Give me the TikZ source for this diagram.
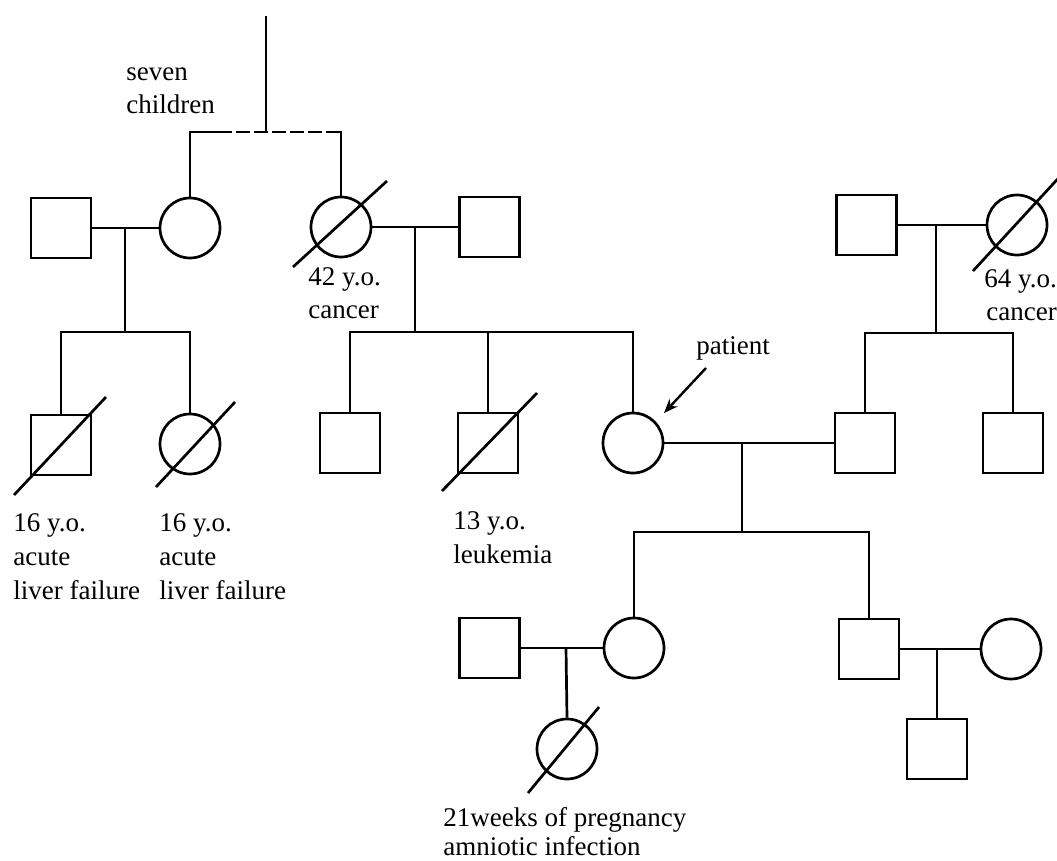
\documentclass[tikz,border=0pt]{standalone}
\usepackage{fontspec}
\setmainfont{Liberation Serif}
\usetikzlibrary{arrows.meta}
\begin{document}
\begin{tikzpicture}[x=1pt,y=-1pt,line width=2.7pt,
  male/.style={draw,rectangle,minimum size=60pt,inner sep=0pt},
  female/.style={draw,circle,minimum size=60pt,inner sep=0pt},
  lbl/.style={anchor=base west,inner sep=0pt,font=\fontsize{27}{33}\selectfont},
  slash/.style={line width=2.7pt},
  sibdash/.style={dash pattern=on 14pt off 4pt}]
\useasboundingbox (0,0) rectangle (1057,861);

% generation II
\node[male]   (sqA)  at (61,228)  {};
\node[female] (cirA) at (190,228) {};
\node[female] (cirB) at (341,227) {};
\node[male]   (sqC)  at (489.5,227) {};
\node[male]   (sqI)  at (866.5,225) {};
\node[female] (cirJ) at (1017,225) {};

% generation III
\node[male]   (sqD)  at (61,445)  {};
\node[female] (cirE) at (190,444) {};
\node[male]   (sqF)  at (350,443) {};
\node[male]   (sqG)  at (488,443) {};
\node[female] (cirP) at (633,443) {};
\node[male]   (sqH)  at (865,443) {};
\node[male]   (sqK)  at (1013,443) {};

% generation IV
\node[male]   (sqM)  at (489.5,648) {};
\node[female] (cirN) at (634,648) {};
\node[male]   (sqP)  at (869,649) {};
\node[female] (cirQ) at (1011,649) {};

% generation V
\node[female] (cirO) at (567,749) {};
\node[male]   (sqR)  at (937,749) {};

% top sibship
\coordinate (top) at (266,16);
\coordinate (sib) at (266,132);
\coordinate (sL) at (190,132);
\coordinate (sR) at (341,132);
\draw (top) -- (sib);
\draw (cirA.north) -- (sL) -- (218,132);
\draw[sibdash] (218,132) -- (sR);
\draw (254,132) -- (sib);
\draw (326,132) -- (sR) -- (cirB.north);

% family A
\coordinate (mA) at (125,228);
\coordinate (cA) at (125,332);
\draw (sqA.east) -- (cirA.west);
\draw (mA) -- (cA);
\draw (sqD.north) -- (sqD.north |- cA) -- (cirE.north |- cA) -- (cirE.north);

% family B
\coordinate (mB) at (415,227);
\coordinate (cB) at (415,332);
\draw (cirB.east) -- (sqC.west);
\draw (mB) -- (cB);
\draw (sqF.north) -- (sqF.north |- cB) -- (cirP.north |- cB) -- (cirP.north);
\draw (sqG.north |- cB) -- (sqG.north);

% family I-J
\coordinate (mI) at (936,225);
\coordinate (cI) at (936,333);
\draw (sqI.east) -- (cirJ.west);
\draw (mI) -- (cI);
\draw (sqH.north) -- (sqH.north |- cI) -- (sqK.north |- cI) -- (sqK.north);

% patient family
\coordinate (mP) at (742,443);
\coordinate (cP) at (742,532);
\draw (cirP.east) -- (sqH.west);
\draw (mP) -- (cP);
\draw (cirN.north) -- (cirN.north |- cP) -- (sqP.north |- cP) -- (sqP.north);

% family M-N
\coordinate (mM) at (566,648);
\draw (sqM.east) -- (cirN.west);
\draw (mM) -- (cirO.north);

% family P-Q
\coordinate (mQ) at (937,649);
\draw (sqP.east) -- (cirQ.west);
\draw (mQ) -- (sqR.north);

% deceased slashes
\draw[slash] ([shift={(-48,40)}]cirB.center) -- ([shift={(46,-46)}]cirB.center);
\draw[slash] ([shift={(-44,46)}]cirJ.center) -- ([shift={(48,-54)}]cirJ.center);
\draw[slash] ([shift={(-47,50)}]sqD.center) -- ([shift={(45,-48)}]sqD.center);
\draw[slash] ([shift={(-34,43)}]cirE.center) -- ([shift={(45,-42)}]cirE.center);
\draw[slash] ([shift={(-46,48)}]sqG.center) -- ([shift={(49,-50)}]sqG.center);
\draw[slash] ([shift={(-39,44)}]cirO.center) -- ([shift={(32,-42)}]cirO.center);

% patient arrow
\coordinate (arS) at (706,368);
\coordinate (arE) at (664,413);
\draw[line width=2.4pt,-{Stealth[length=14pt,width=11pt]}] (arS) -- (arE);

% labels
\node[lbl] (t1) at (125,81)  {seven};
\node[lbl] (t2) at (125,114) {children};
\node[lbl] (t3) at (307,285) {42 y.o.};
\node[lbl] (t4) at (307,318) {cancer};
\node[lbl] (t5) at (983,287) {64 y.o.};
\node[lbl] (t6) at (985,320) {cancer};
\node[lbl] (t7) at (695,354) {patient};
\node[lbl] (t8) at (12,531)  {16 y.o.};
\node[lbl] (t9) at (12,565)  {acute};
\node[lbl] (t10) at (12,599) {liver\ failure};
\node[lbl] (t11) at (158,531) {16 y.o.};
\node[lbl] (t12) at (158,565) {acute};
\node[lbl] (t13) at (158,599) {liver\ failure};
\node[lbl] (t14) at (452,529) {13 y.o.};
\node[lbl] (t15) at (452,563) {leukemia};
\node[lbl] (t16) at (442,826) {21weeks of pregnancy};
\node[lbl] (t17) at (442,855) {amniotic\ infection};
\end{tikzpicture}
\end{document}
